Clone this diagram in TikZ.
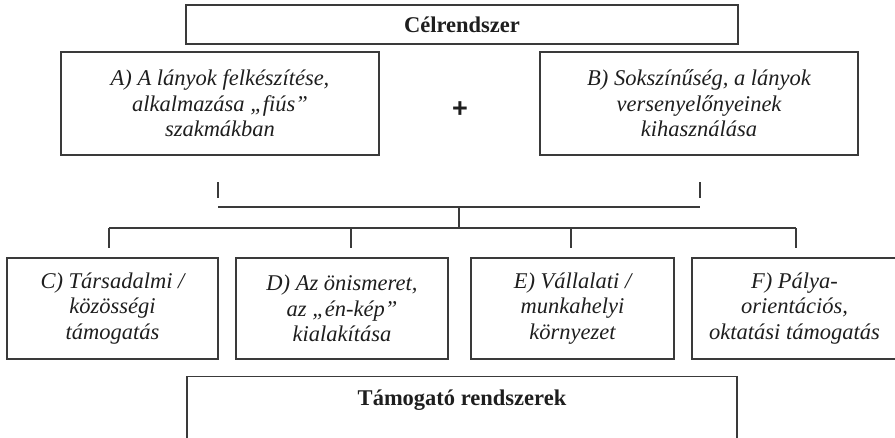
\documentclass[tikz,border=0pt]{standalone}
\usepackage{fontspec}
\setmainfont{Liberation Serif}
\setsansfont{Liberation Sans}
\usetikzlibrary{positioning}

\begin{document}
\begin{tikzpicture}[x=1pt, y=-1pt,
    % Estilos de nodos
    headbox/.style={
        rectangle, draw=linegray, line width=1.2pt,
        minimum width=#1, inner sep=0pt,
        font=\fontsize{22.5}{26}\selectfont\bfseries, text=textblack
    },
    aimbox/.style={
        rectangle, draw=linegray, line width=1.2pt,
        minimum width=#1, minimum height=103, inner sep=0pt,
        font=\fontsize{22.5}{25.5}\selectfont\itshape, text=textblack, align=center
    },
    supbox/.style={
        rectangle, draw=linegray, line width=1.2pt,
        minimum width=#1, minimum height=101, inner sep=0pt,
        font=\fontsize{22.5}{25.5}\selectfont\itshape, text=textblack, align=center
    },
    conn/.style={
        draw=linegray, line width=1.1pt
    }
]

% ── Definir colores ──
\definecolor{linegray}{HTML}{3A3A3A}
\definecolor{textblack}{HTML}{1E1E1E}

\useasboundingbox (0,0) rectangle (895,437);
\clip (0,0) rectangle (895,437);

% ════════════════════════════════════════
% CÉLRENDSZER (arriba)
% ════════════════════════════════════════
\node[headbox=552, minimum height=39, text height=16pt] (cel) at (462,24.5) {Célrendszer};

\node[aimbox=318] (aima) at (220,103.5)
    {A) A lányok felkészítése,\\ alkalmazása „fiús”\\ szakmákban};
\node[aimbox=318] (aimb) at (699,103.5)
    {B) Sokszínűség, a lányok\\ versenyelőnyeinek\\ kihasználása};
\node[font=\sffamily\fontsize{27}{30}\selectfont\bfseries, text=textblack] (plus) at (460,110) {+};

% ════════════════════════════════════════
% CONECTORES
% ════════════════════════════════════════
\coordinate (tickatop) at (218,182);
\coordinate (tickabot) at (218,198);
\coordinate (tickbtop) at (700,182);
\coordinate (tickbbot) at (700,198);
\coordinate (bara)     at (218,207);
\coordinate (barb)     at (700,207);
\coordinate (barmid)   at (459,207);
\coordinate (splitmid) at (459,228);
\coordinate (splitc)   at (109,228);
\coordinate (splitd)   at (351,228);
\coordinate (splite)   at (571,228);
\coordinate (splitf)   at (796,228);

\draw[conn] (tickatop) -- (tickabot);
\draw[conn] (tickbtop) -- (tickbbot);
\draw[conn] (bara) -- (barb);
\draw[conn] (barmid) -- (splitmid);
\draw[conn] (splitc) -- (splitf);
\draw[conn] (splitc) -- ++(0,20);
\draw[conn] (splitd) -- ++(0,20);
\draw[conn] (splite) -- ++(0,20);
\draw[conn] (splitf) -- ++(0,20);

% ════════════════════════════════════════
% TÁMOGATÓ RENDSZEREK (abajo)
% ════════════════════════════════════════
\node[supbox=211] (supc) at (112.5,308.5)
    {C) Társadalmi /\\ közösségi\\ támogatás};
\node[supbox=212] (supd) at (342,308.5)
    {D) Az önismeret,\\ az „én-kép”\\ kialakítása};
\node[supbox=203] (supe) at (572.5,308.5)
    {E) Vállalati /\\ munkahelyi\\ környezet};
\node[supbox=205] (supf) at (794.5,308.5)
    {F) Pálya-\\ orientációs,\\ oktatási támogatás};

\node[headbox=550, minimum height=70, anchor=north] (tam) at (462,376) {};
\node[font=\fontsize{22.5}{26}\selectfont\bfseries, text=textblack] (tamtext) at (462,400) {Támogató rendszerek};

\end{tikzpicture}
\end{document}
